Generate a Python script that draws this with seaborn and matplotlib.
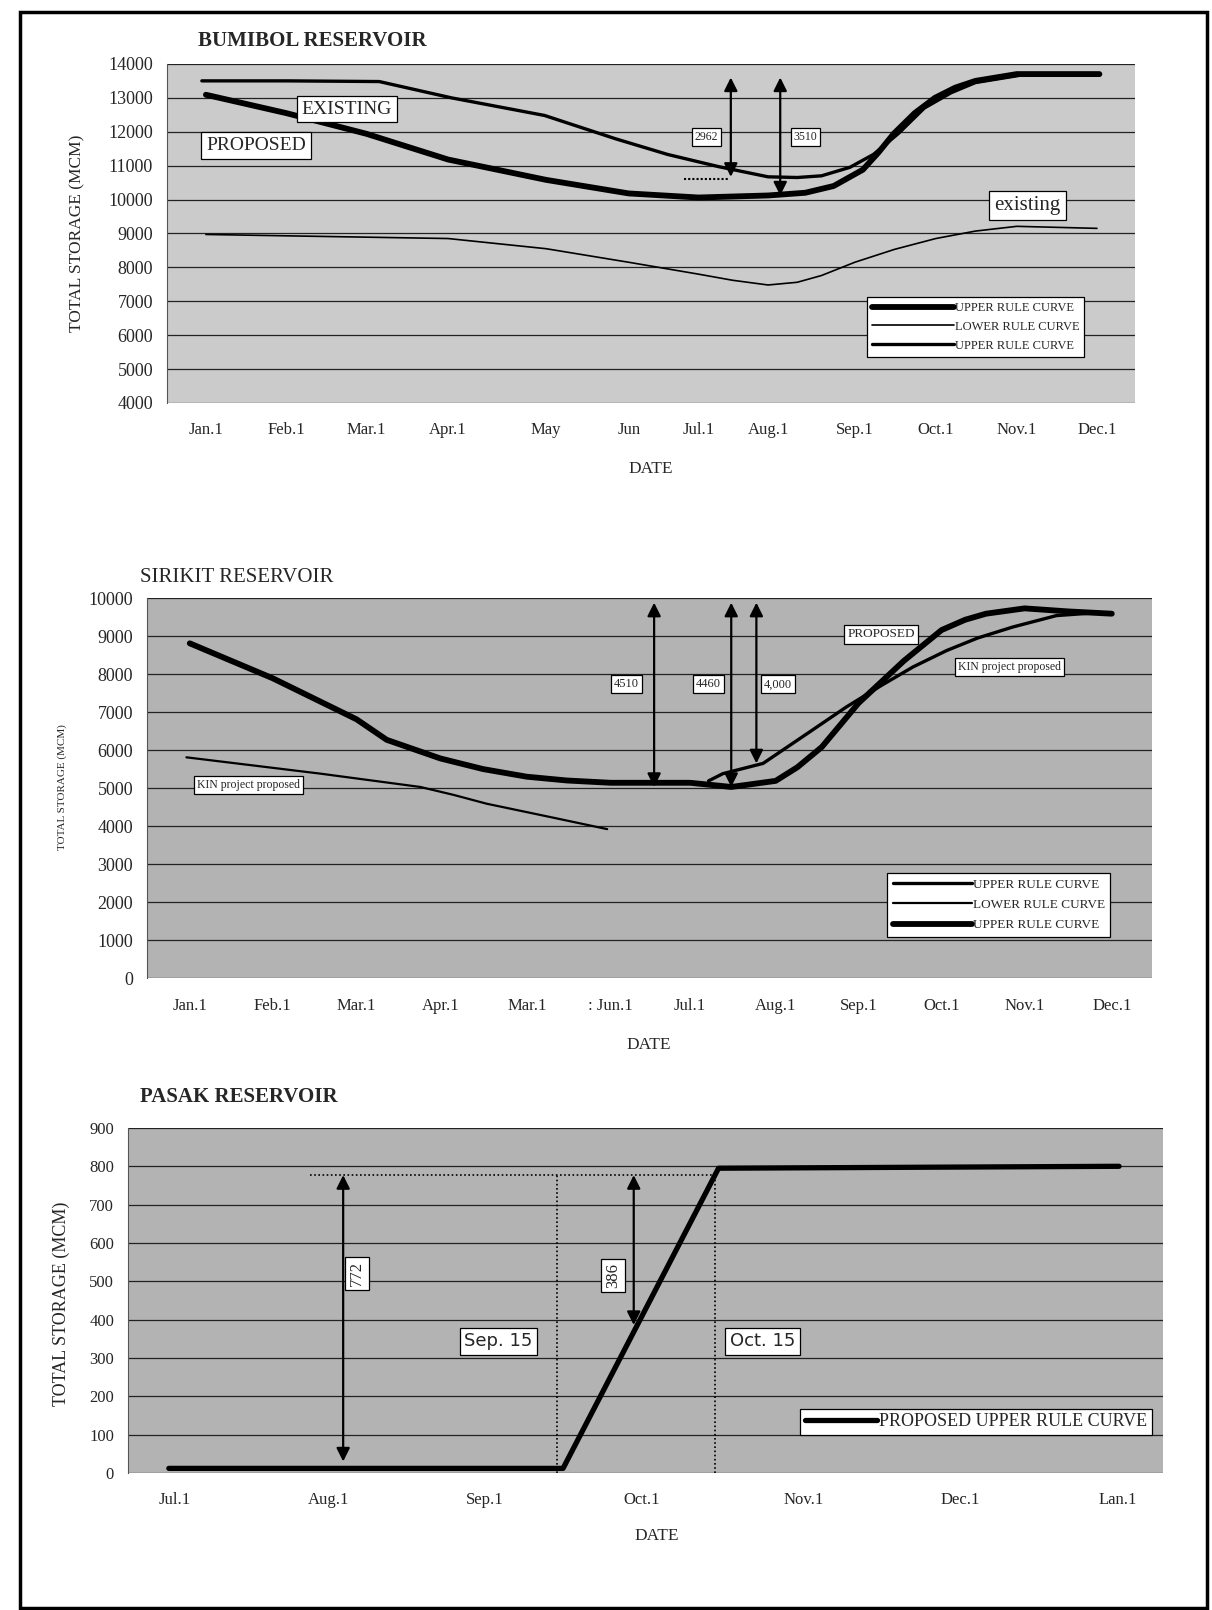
import numpy as np
import pandas as pd
import matplotlib
matplotlib.use("Agg")
import matplotlib.pyplot as plt
import matplotlib.patches as patches
import seaborn as sns

# ---------------- data ----------------
# x values are in "tick units": each panel's month labels sit at the positions below
bum_ticks = [0, 0.99, 1.98, 2.99, 4.20, 5.22, 6.08, 6.94, 8.01, 9.01, 10.01, 11.0]
bum_labels = ["Jan.1", "Feb.1", "Mar.1", "Apr.1", "May", "Jun", "Jul.1", "Aug.1",
              "Sep.1", "Oct.1", "Nov.1", "Dec.1"]
bum_prop_x = [0, 0.99, 1.98, 2.99, 4.20, 5.22, 6.08, 6.94, 7.40, 7.75, 8.11, 8.30, 8.49, 8.75, 9.00, 9.25, 9.50, 10.01, 11.03]
bum_prop_y = [13090, 12550, 11940, 11180, 10580, 10180, 10060, 10120, 10200, 10400, 10880, 11380, 11940, 12550, 13000, 13300, 13500, 13700, 13700]
bum_exist_x = [-0.05, 1.0, 2.14, 3.03, 4.18, 5.06, 5.70, 6.33, 6.94, 7.30, 7.60, 7.95, 8.24, 8.55, 8.87, 9.20, 9.50, 10.14, 11.03]
bum_exist_y = [13500, 13500, 13480, 13000, 12480, 11790, 11330, 10970, 10670, 10650, 10700, 10950, 11330, 11950, 12700, 13150, 13450, 13700, 13670]
bum_low_x = [0, 2.99, 4.20, 5.22, 6.08, 6.50, 6.94, 7.30, 7.60, 8.01, 8.50, 9.01, 9.50, 10.01, 11.0]
bum_low_y = [8970, 8850, 8550, 8150, 7800, 7620, 7480, 7560, 7760, 8150, 8530, 8850, 9070, 9210, 9150]

sir_ticks = [0, 0.99, 1.99, 2.99, 4.02, 5.02, 5.96, 6.99, 7.98, 8.97, 9.96, 11.0]
sir_labels = ["Jan.1", "Feb.1", "Mar.1", "Apr.1", "Mar.1", ": Jun.1", "Jul.1", "Aug.1",
              "Sep.1", "Oct.1", "Nov.1", "Dec.1"]
sir_prop_x = [0, 0.99, 1.99, 2.35, 2.99, 3.50, 4.02, 4.50, 5.02, 5.97, 6.46, 6.99, 7.25, 7.54, 7.98, 8.52, 8.97, 9.25, 9.50, 9.96, 10.48, 11.0]
sir_prop_y = [8810, 7890, 6810, 6270, 5780, 5500, 5300, 5200, 5140, 5140, 5030, 5190, 5550, 6080, 7240, 8350, 9160, 9430, 9590, 9730, 9650, 9590]
sir_kin_x = [6.19, 6.36, 6.84, 7.41, 7.83, 8.25, 8.63, 9.03, 9.40, 9.82, 10.34, 10.72]
sir_kin_y = [5190, 5380, 5650, 6500, 7130, 7700, 8190, 8620, 8950, 9240, 9540, 9600]
sir_low_x = [-0.04, 1.56, 2.75, 3.15, 3.54, 4.34, 4.98]
sir_low_y = [5810, 5380, 5030, 4820, 4590, 4220, 3920]

pas_ticks = [0, 0.975, 1.97, 2.97, 4.0, 5.0, 6.0]
pas_labels = ["Jul.1", "Aug.1", "Sep.1", "Oct.1", "Nov.1", "Dec.1", "Lan.1"]
pas_prop_x = [-0.04, 2.47, 3.46, 6.01]
pas_prop_y = [12, 12, 795, 800]

# ---------------- style ----------------
sns.set_theme(style="white")
plt.rcParams["font.family"] = ["Liberation Serif", "DejaVu Serif"]
plt.rcParams["lines.solid_joinstyle"] = "round"
plt.rcParams["lines.solid_capstyle"] = "round"

fig = plt.figure(figsize=(12.12, 16.10), dpi=100)

box = dict(boxstyle="square,pad=0.25", fc="white", ec="black", lw=0.9)
arrow = dict(arrowstyle="<|-|>", color="black", lw=1.6, mutation_scale=20, shrinkA=0, shrinkB=0)
leg_kw = dict(frameon=True, fancybox=False, edgecolor="black", facecolor="white", framealpha=1)


def base_axes(rect, face, xlim, ylim, yticks, ticks, labels, ysize):
    ax = fig.add_axes(rect)
    ax.set_facecolor(face)
    ax.set_xlim(*xlim)
    ax.set_ylim(*ylim)
    ax.set_yticks(yticks)
    ax.set_xticks(ticks)
    ax.set_xticklabels(labels)
    ax.tick_params(axis="x", labelsize=12, pad=14, length=0)
    ax.tick_params(axis="y", labelsize=ysize, pad=10, length=0)
    ax.grid(axis="y", color="#222222", lw=0.9)
    ax.grid(axis="x", visible=False)
    ax.set_axisbelow(True)
    for s in ax.spines.values():
        s.set_visible(False)
    ax.spines["left"].set_visible(True)
    ax.spines["left"].set_color("#555555")
    ax.spines["left"].set_linewidth(0.8)
    ax.set_xlabel("")
    ax.set_ylabel("")
    return ax


# ---------------- BUMIBOL ----------------
ax1 = base_axes([0.1378, 0.7497, 0.7987, 0.2106], "#cbcbcb", (-0.48, 11.47), (4000, 14000),
                np.arange(4000, 14001, 1000), bum_ticks, bum_labels, 13)
sns.lineplot(x=bum_prop_x, y=bum_prop_y, ax=ax1, color="black", lw=4.2, label="UPPER RULE CURVE")
sns.lineplot(x=bum_low_x, y=bum_low_y, ax=ax1, color="black", lw=1.2, label="LOWER RULE CURVE")
sns.lineplot(x=bum_exist_x, y=bum_exist_y, ax=ax1, color="black", lw=2.4, label="UPPER RULE CURVE")
ax1.plot([5.9, 6.45], [10600, 10600], color="black", lw=1.5, ls=(0, (1, 1)))
ax1.annotate("", xy=(6.48, 10670), xytext=(6.48, 13600), arrowprops=arrow)
ax1.annotate("", xy=(7.09, 10120), xytext=(7.09, 13600), arrowprops=arrow)
ax1.text(6.18, 11850, "2962", fontsize=8.5, ha="center", va="center", bbox=box)
ax1.text(7.40, 11850, "3510", fontsize=8.5, ha="center", va="center", bbox=box)
ax1.text(1.74, 12670, "EXISTING", fontsize=14, ha="center", va="center", bbox=box)
ax1.text(0.62, 11600, "PROPOSED", fontsize=14, ha="center", va="center", bbox=box)
ax1.text(10.14, 9820, "existing", fontsize=15, ha="center", va="center", bbox=box)
leg = ax1.legend(loc="lower left", bbox_to_anchor=(0.717, 0.118), fontsize=9, handlelength=6.5,
                 labelspacing=0.55, handletextpad=0.1, borderpad=0.4, **leg_kw)
leg.get_frame().set_linewidth(0.9)
fig.text(0.163, 0.9745, "BUMIBOL RESERVOIR", fontsize=15, fontweight="bold", ha="left", va="center")
fig.text(0.0635, 0.855, "TOTAL STORAGE (MCM)", fontsize=12.5, rotation=90, ha="center", va="center")
fig.text(0.537, 0.7087, "DATE", fontsize=12.5, ha="center", va="center")

# ---------------- SIRIKIT ----------------
ax2 = base_axes([0.1213, 0.3925, 0.8292, 0.2360], "#b3b3b3", (-0.51, 11.48), (0, 10000),
                np.arange(0, 10001, 1000), sir_ticks, sir_labels, 13)
sns.lineplot(x=sir_kin_x, y=sir_kin_y, ax=ax2, color="black", lw=2.4, label="UPPER RULE CURVE")
sns.lineplot(x=sir_low_x, y=sir_low_y, ax=ax2, color="black", lw=1.6, label="LOWER RULE CURVE")
sns.lineplot(x=sir_prop_x, y=sir_prop_y, ax=ax2, color="black", lw=4.2, label="UPPER RULE CURVE")
ax2.annotate("", xy=(5.54, 5030), xytext=(5.54, 9880), arrowprops=arrow)
ax2.annotate("", xy=(6.46, 5030), xytext=(6.46, 9880), arrowprops=arrow)
ax2.annotate("", xy=(6.76, 5650), xytext=(6.76, 9880), arrowprops=arrow)
ax2.text(5.21, 7730, "4510", fontsize=9, ha="center", va="center", bbox=box)
ax2.text(6.19, 7730, "4460", fontsize=9, ha="center", va="center", bbox=box)
ax2.text(7.02, 7730, "4,000", fontsize=9, ha="center", va="center", bbox=box)
ax2.text(8.25, 9050, "PROPOSED", fontsize=9.5, ha="center", va="center", bbox=box)
ax2.text(9.78, 8190, "KIN project proposed", fontsize=8.5, ha="center", va="center", bbox=box)
ax2.text(0.70, 5080, "KIN project proposed", fontsize=8.5, ha="center", va="center", bbox=box)
leg = ax2.legend(loc="lower left", bbox_to_anchor=(0.730, 0.092), fontsize=9.5, handlelength=6,
                 labelspacing=0.6, handletextpad=0.1, borderpad=0.4, **leg_kw)
leg.get_frame().set_linewidth(0.9)
fig.text(0.1155, 0.6416, "SIRIKIT RESERVOIR", fontsize=15, ha="left", va="center")
fig.text(0.051, 0.511, "TOTAL STORAGE (MCM)", fontsize=8, rotation=90, ha="center", va="center")
fig.text(0.5356, 0.351, "DATE", fontsize=12.5, ha="center", va="center")

# ---------------- PASAK ----------------
ax3 = base_axes([0.1056, 0.0851, 0.854, 0.2143], "#b3b3b3", (-0.30, 6.29), (0, 900),
                np.arange(0, 901, 100), pas_ticks, pas_labels, 12)
sns.lineplot(x=pas_prop_x, y=pas_prop_y, ax=ax3, color="black", lw=3.8, label="PROPOSED UPPER RULE CURVE")
ax3.plot([0.86, 3.42], [777, 777], color="black", lw=1.2, ls=(0, (1, 1.5)))
ax3.plot([2.43, 2.43], [0, 777], color="black", lw=1.2, ls=(0, (1, 1.5)))
ax3.plot([3.44, 3.44], [0, 790], color="black", lw=1.2, ls=(0, (1, 1.5)))
ax3.annotate("", xy=(1.07, 30), xytext=(1.07, 777), arrowprops=arrow)
ax3.annotate("", xy=(2.92, 386), xytext=(2.92, 777), arrowprops=arrow)
ax3.text(1.16, 520, "772", fontsize=12, rotation=90, ha="center", va="center", bbox=box)
ax3.text(2.79, 515, "386", fontsize=12, rotation=90, ha="center", va="center", bbox=box)
ax3.text(2.06, 343, "Sep. 15", fontsize=13, family=["DejaVu Sans"], ha="center", va="center", bbox=box)
ax3.text(3.74, 343, "Oct. 15", fontsize=13, family=["DejaVu Sans"], ha="center", va="center", bbox=box)
leg = ax3.legend(loc="lower left", bbox_to_anchor=(0.641, 0.085), fontsize=13, handlelength=4,
                 handletextpad=0.1, borderpad=0.25, **leg_kw)
leg.get_frame().set_linewidth(0.9)
fig.text(0.1155, 0.3186, "PASAK RESERVOIR", fontsize=15, fontweight="bold", ha="left", va="center")
fig.text(0.051, 0.19, "TOTAL STORAGE (MCM)", fontsize=13, rotation=90, ha="center", va="center")
fig.text(0.542, 0.046, "DATE", fontsize=12.5, ha="center", va="center")

# page frame
fig.patches.append(patches.Rectangle((0.0165, 0.0012), 0.9794, 0.9913, transform=fig.transFigure,
                                     fill=False, ec="black", lw=2.5))

fig.savefig("out.png", dpi=100)
